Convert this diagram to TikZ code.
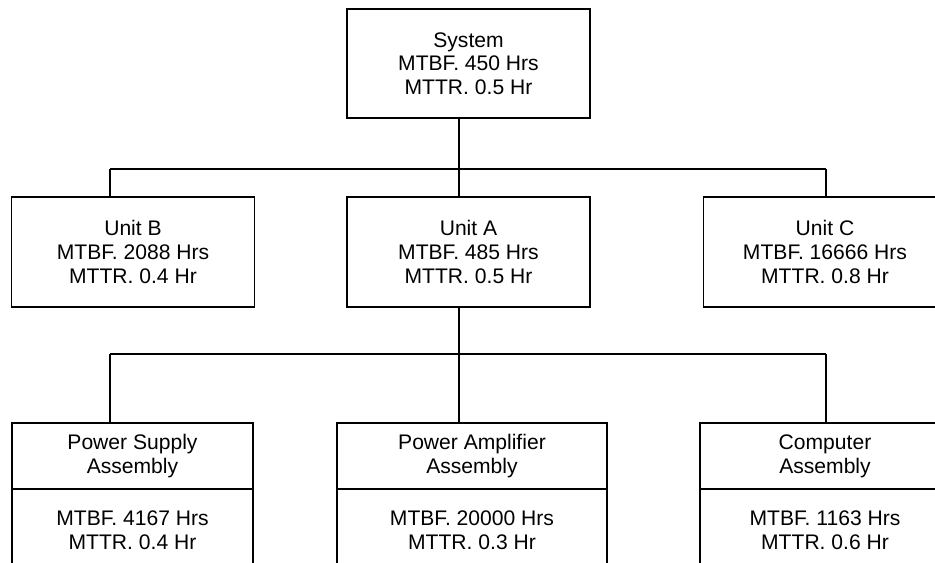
\documentclass[tikz,border=0pt]{standalone}
\usepackage{fontspec}
\setmainfont{Liberation Sans}
\usepackage{tikz}
\usetikzlibrary{positioning}
\tikzset{%
  blk/.style = {rectangle,draw,line width=0.9pt,inner sep=0pt,outer sep=0pt,
        align=center,font=\fontsize{12}{13.5}\selectfont},
  unitbox/.style = {blk,minimum width=4.86cm,minimum height=2.2cm},
  headbox/.style = {blk,minimum height=1.32cm},
  bodybox/.style = {blk,minimum height=1.64cm},
  bus/.style = {line width=1pt},
  drop/.style = {line width=0.6pt}
}

\begin{document}
\begin{tikzpicture}[x=0.02cm,y=-0.02cm]
                \clip (0,0) rectangle (935,563);
                % top level
                \node[unitbox, minimum height=2.18cm] (sys) at (468.5,63.5)
                        {System\\MTBF. 450 Hrs\\MTTR. 0.5 Hr};
                % units
                \node[unitbox] (unitB) at (133,252) {Unit B\\MTBF. 2088 Hrs\\MTTR. 0.4 Hr};
                \node[unitbox] (unitA) at (468.5,252) {Unit A\\MTBF. 485 Hrs\\MTTR. 0.5 Hr};
                \node[unitbox] (unitC) at (825,252) {Unit C\\MTBF. 16666 Hrs\\MTTR. 0.8 Hr};
                % assemblies
                \node[headbox, minimum width=4.82cm] (psaHead) at (132.5,456) {Power Supply\\Assembly};
                \node[bodybox, minimum width=4.82cm] (psaBody) [below=0pt of psaHead] {MTBF. 4167 Hrs\\MTTR. 0.4 Hr};
                \node[headbox, minimum width=5.4cm] (paaHead) at (472,456) {Power Amplifier\\Assembly};
                \node[bodybox, minimum width=5.4cm] (paaBody) [below=0pt of paaHead] {MTBF. 20000 Hrs\\MTTR. 0.3 Hr};
                \node[headbox, minimum width=5cm] (compHead) at (825,456) {Computer\\Assembly};
                \node[bodybox, minimum width=5cm] (compBody) [below=0pt of compHead] {MTBF. 1163 Hrs\\MTTR. 0.6 Hr};

                \coordinate (trunkA) at (459,169);
                \coordinate (busAL) at (110,169);
                \coordinate (busAR) at (826,169);
                \coordinate (trunkB) at (459,354);
                \coordinate (busBL) at (110,354);
                \coordinate (busBR) at (826,354);

                \draw[drop] (trunkA |- sys.south) -- (trunkA);
                \draw[bus] (busAL) -- (busAR);
                \draw[drop] (busAL) -- (busAL |- unitB.north);
                \draw[drop] (trunkA) -- (trunkA |- unitA.north);
                \draw[drop] (busAR) -- (busAR |- unitC.north);

                \draw[drop] (trunkB |- unitA.south) -- (trunkB);
                \draw[bus] (busBL) -- (busBR);
                \draw[drop] (busBL) -- (busBL |- psaHead.north);
                \draw[drop] (trunkB) -- (trunkB |- paaHead.north);
                \draw[drop] (busBR) -- (busBR |- compHead.north);
\end{tikzpicture}
\end{document}
